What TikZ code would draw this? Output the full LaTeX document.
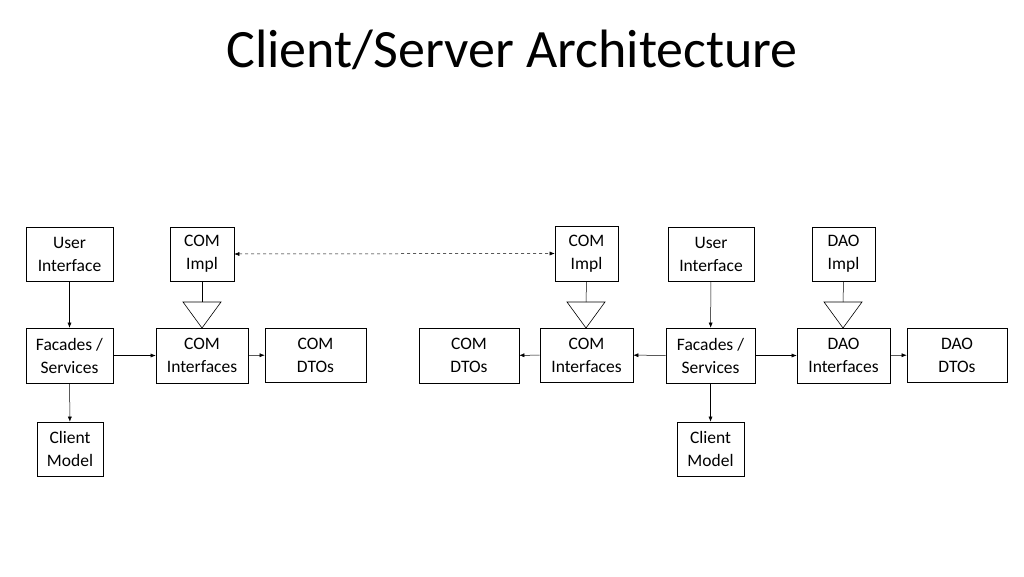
\documentclass[tikz,border=0pt]{standalone}
\usepackage{fontspec}
\setmainfont{Carlito}
\usetikzlibrary{arrows.meta}
\begin{document}
\begin{tikzpicture}[x=1pt,y=-1pt,
 box/.style={draw,line width=0.6pt,align=center,inner sep=0pt,font=\fontsize{17.5}{23}\selectfont},
 arr/.style={-{Latex[length=5pt,width=4pt]},line width=0.5pt},
 tri/.style={draw,line width=0.6pt}]
\useasboundingbox (0,0) rectangle (1024,576);
\node[font=\fontsize{54}{60}\selectfont] (title) at (512,50) {Client/Server Architecture};
\newcommand{\bx}[6]{\node[box,minimum width=#4-#2,minimum height=#5-#3] (#1) at ({(#2+#4)/2},{(#3+#5)/2}) {#6};}
\bx{ui1}{26}{227}{113}{281}{User\\Interface}
\bx{ci1}{170}{227}{234}{281}{COM\\Impl}
\bx{fa1}{26}{328}{113}{383}{Facades /\\Services}
\bx{cint1}{156}{328}{248}{383}{COM\\Interfaces}
\bx{cd1}{265}{328}{366}{382}{COM\\DTOs}
\bx{cm1}{37}{422}{103}{476}{Client\\Model}
\bx{ci2}{555}{226}{618}{281}{COM\\Impl}
\bx{ui2}{668}{227}{754}{281}{User\\Interface}
\bx{di2}{812}{227}{875}{281}{DAO\\Impl}
\bx{cd2}{419}{328}{519}{383}{COM\\DTOs}
\bx{cint2}{540}{328}{633}{382}{COM\\Interfaces}
\bx{fa2}{666}{328}{755}{383}{Facades /\\Services}
\bx{dint}{797}{328}{890}{383}{DAO\\Interfaces}
\bx{dd}{907}{328}{1007}{382}{DAO\\DTOs}
\bx{cm2}{677}{422}{744}{476}{Client\\Model}
% triangles
\foreach \n/\x in {t1/202, t2/586, t3/843}{
  \coordinate (\n) at (\x,302);
  \draw[tri] (\x-19,302) -- (\x+19,302) -- (\x,328) -- cycle;
}
\draw[line width=0.5pt] (ci1.south) -- (t1);
\draw[line width=0.5pt] (ci2.south) -- (t2);
\draw[line width=0.5pt] (di2.south) -- (t3);
\draw[{Latex[length=5pt,width=4pt]}-{Latex[length=5pt,width=4pt]},dashed,line width=0.5pt] (ci1.east) -- (ci2.west);
\draw[arr] (ui1) -- (fa1);
\draw[arr] (fa1) -- (cm1);
\draw[arr] (fa1) -- (cint1);
\draw[arr] (cint1) -- (cd1);
\draw[arr] (ui2) -- (fa2);
\draw[arr] (fa2) -- (cm2);
\draw[arr] (fa2) -- (cint2);
\draw[arr] (cint2) -- (cd2);
\draw[arr] (fa2) -- (dint);
\draw[arr] (dint) -- (dd);
\end{tikzpicture}
\end{document}
